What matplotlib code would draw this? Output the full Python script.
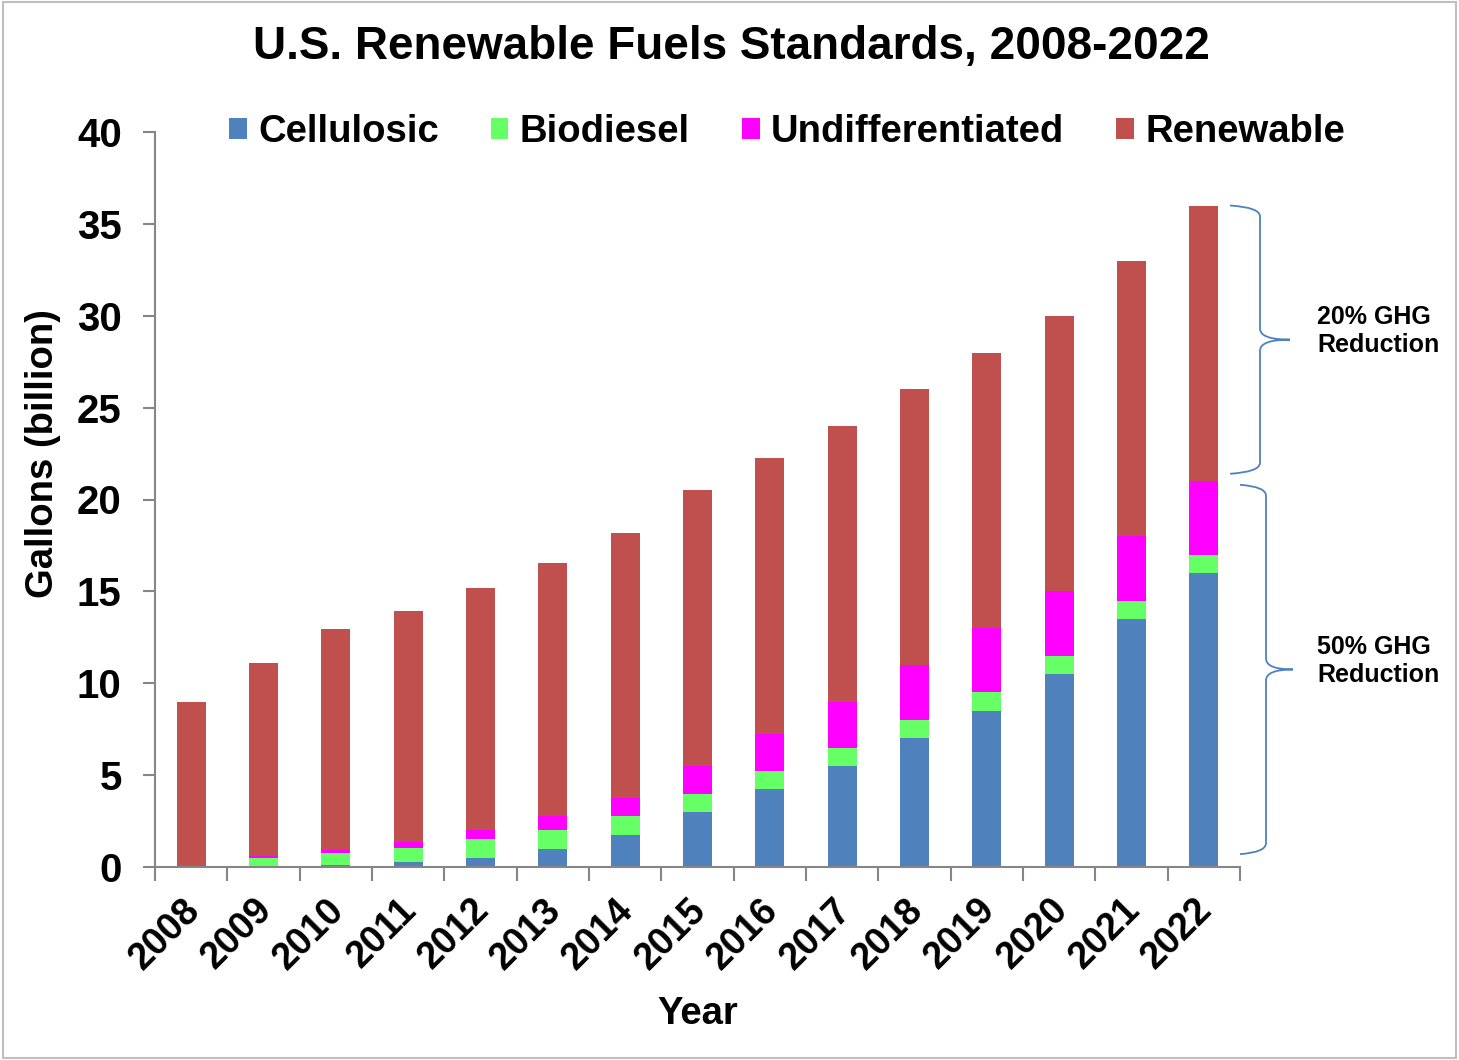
import matplotlib
matplotlib.use("Agg")
import matplotlib.pyplot as plt
from matplotlib.path import Path
from matplotlib.patches import PathPatch, Rectangle
import matplotlib.transforms as mtransforms
import numpy as np

plt.rcParams["font.family"] = ["Liberation Sans", "DejaVu Sans"]
plt.rcParams["font.weight"] = "bold"
plt.rcParams["axes.labelweight"] = "bold"

YEARS = [str(y) for y in range(2008, 2023)]
CELLULOSIC = [0.0, 0.0, 0.1, 0.25, 0.5, 1.0, 1.75, 3.0, 4.25, 5.5, 7.0, 8.5, 10.5, 13.5, 16.0]
BIODIESEL = [0.0, 0.5, 0.65, 0.8, 1.0, 1.0, 1.0, 1.0, 1.0, 1.0, 1.0, 1.0, 1.0, 1.0, 1.0]
UNDIFF = [0.0, 0.1, 0.2, 0.3, 0.5, 0.75, 1.0, 1.5, 2.0, 2.5, 3.0, 3.5, 3.5, 3.5, 4.0]
RENEWABLE = [9.0, 10.5, 12.0, 12.6, 13.2, 13.8, 14.4, 15.0, 15.0, 15.0, 15.0, 15.0, 15.0, 15.0, 15.0]
SERIES = ["Cellulosic", "Biodiesel", "Undifferentiated", "Renewable"]
COLORS = ["#4F81BD", "#66FF66", "#FF00FF", "#C0504D"]

# brace spans (data units): 20% GHG covers the renewable part of 2022, 50% the advanced part
BRACE_20 = (21.4, 36.0)
BRACE_50 = (0.7, 20.8)

fig = plt.figure(figsize=(14.59, 10.6), dpi=100)
ax = fig.add_axes([155 / 1459, 1 - 867 / 1060, 1085 / 1459, 735 / 1060])

x = np.arange(len(YEARS))
bottom = np.zeros(len(YEARS))
for name, vals, col in zip(SERIES, [CELLULOSIC, BIODIESEL, UNDIFF, RENEWABLE], COLORS):
    ax.bar(x, vals, width=0.4, bottom=bottom, color=col, label=name, edgecolor="none")
    bottom += np.array(vals)

ax.set_xlim(-0.5, len(YEARS) - 0.5)
ax.set_ylim(0, 40)
ax.set_yticks(range(0, 41, 5))
ax.set_xticks(x)
ax.set_xticklabels(YEARS, rotation=45, ha="right", va="center", rotation_mode="anchor", fontsize=27)
ax.set_xticks(np.arange(-0.5, len(YEARS)), minor=True)
ax.tick_params(axis="x", which="major", length=0, pad=27)
ax.tick_params(axis="x", which="minor", length=10, width=1.5, color="#868686")
ax.tick_params(axis="y", length=9, width=1.5, color="#868686", labelsize=29, pad=15)
for lab in ax.get_xticklabels():
    lab.set_transform(lab.get_transform() + mtransforms.ScaledTranslation(0.03, 0, fig.dpi_scale_trans))

for s in ["top", "right"]:
    ax.spines[s].set_visible(False)
for s in ["left", "bottom"]:
    ax.spines[s].set_color("#868686")
    ax.spines[s].set_linewidth(1.5)

ax.set_ylabel("Gallons (billion)", fontsize=27.5, labelpad=16)
ax.yaxis.set_label_coords(-0.087, 0.563)
ax.set_xlabel("Year", fontsize=27.5, labelpad=14)
fig.text(0.501, 0.956, "U.S. Renewable Fuels Standards, 2008-2022", ha="center", va="center",
         fontsize=33)

leg = ax.legend(loc="center left", bbox_to_anchor=(0.068, 1.0), ncol=4, frameon=False,
                fontsize=27.5, handlelength=0.47, handleheight=0.47, handletextpad=0.3,
                columnspacing=1.35, borderaxespad=0, borderpad=0)

# curly braces to the right of the last bar
trans = mtransforms.blended_transform_factory(ax.transAxes, ax.transData)


def brace(y0, y1, xs, xm, xt):
    ym = (y0 + y1) / 2
    c = 0.6
    verts = [(xs, y1), (xm, y1 - 0.1), (xm, y1 - c),
             (xm, ym + c), (xm, ym), (xt, ym),
             (xm, ym), (xm, ym - c),
             (xm, y0 + c), (xm, y0 + 0.1), (xs, y0)]
    codes = [Path.MOVETO, Path.CURVE3, Path.CURVE3,
             Path.LINETO, Path.CURVE3, Path.CURVE3,
             Path.CURVE3, Path.CURVE3,
             Path.LINETO, Path.CURVE3, Path.CURVE3]
    ax.add_patch(PathPatch(Path(verts, codes), transform=trans, fill=False,
                           edgecolor="#4F81BD", lw=1.3, clip_on=False))
    return ym


ym20 = brace(BRACE_20[0], BRACE_20[1], 1.0 - 10 / 1085, 1.0 + 20 / 1085, 1.0 + 50 / 1085)
ym50 = brace(BRACE_50[0], BRACE_50[1], 1.0 + 0 / 1085, 1.0 + 26 / 1085, 1.0 + 53 / 1085)
ax.text(1.0 + 77 / 1085, ym20 + 0.45, "20% GHG\nReduction", transform=trans, fontsize=18,
        va="center", ha="left", linespacing=1.2)
ax.text(1.0 + 77 / 1085, ym50 + 0.45, "50% GHG\nReduction", transform=trans, fontsize=18,
        va="center", ha="left", linespacing=1.2)

fig.patches.append(Rectangle((0.002, 0.002), 0.996, 0.996, transform=fig.transFigure,
                             fill=False, edgecolor="#BFBFBF", lw=1.5))

fig.savefig("out.png", dpi=100)
